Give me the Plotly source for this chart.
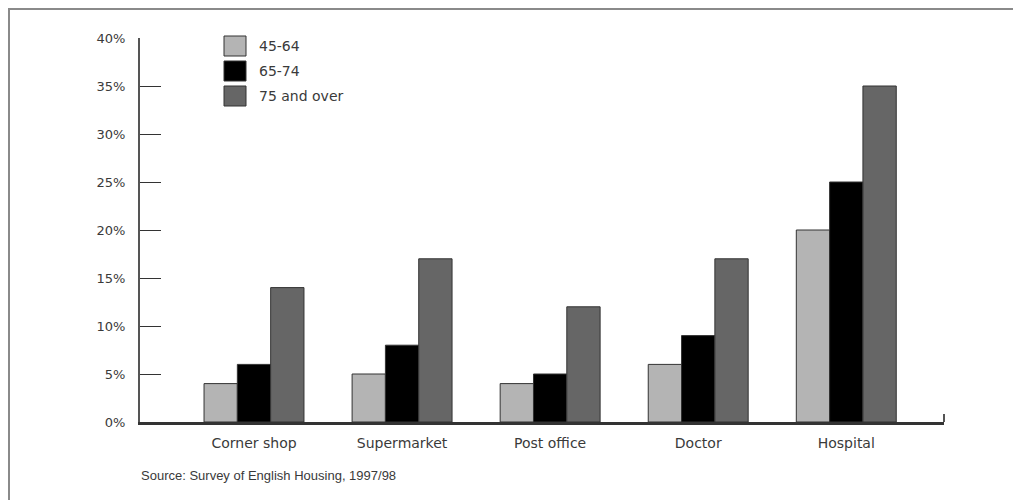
import plotly.graph_objects as go

categories = ["Corner shop", "Supermarket", "Post office", "Doctor", "Hospital"]
series_names = ["45-64", "65-74", "75 and over"]
vals_45_64 = [4, 5, 4, 6, 20]
vals_65_74 = [6, 8, 5, 9, 25]
vals_75_over = [14, 17, 12, 17, 35]
y_ticks = [0, 5, 10, 15, 20, 25, 30, 35, 40]
y_tick_labels = ["0%", "5%", "10%", "15%", "20%", "25%", "30%", "35%", "40%"]
source_text = "Source: Survey of English Housing, 1997/98"

colors = ["#b4b4b4", "#000000", "#666666"]
series_vals = [vals_45_64, vals_65_74, vals_75_over]

W, H = 1021, 500
OFF = 8  # page body margin
# plot area in page pixel coordinates (as seen in the reference)
L, R, T, B = 140 - OFF, 944 - OFF, 38 - OFF, 422 - OFF


def px(fx):
    return (fx - OFF - L) / (R - L)


def py(fy):
    return (B - (fy - OFF)) / (B - T)


fig = go.Figure()
for name, vals, c in zip(series_names, series_vals, colors):
    fig.add_trace(go.Bar(
        x=list(range(len(categories))), y=vals, name=name,
        marker=dict(color=c, line=dict(color="#333333", width=1)),
        showlegend=False,
    ))

txt = "#3a3a3a"
fam = "DejaVu Sans, Liberation Sans, sans-serif"
fig.update_layout(
    width=W, height=H,
    margin=dict(l=L, r=W - R, t=T, b=H - B, pad=0),
    paper_bgcolor="white", plot_bgcolor="white",
    barmode="group", bargap=0.325, bargroupgap=0,
    font=dict(family=fam, size=13, color=txt),
    xaxis=dict(
        range=[-0.77, 4.66], tickmode="array",
        tickvals=list(range(len(categories))), ticktext=categories,
        tickfont=dict(size=14, color=txt),
        showgrid=False, zeroline=False, showline=True, linecolor="#333333", linewidth=3,
        ticks="", ticklabelstandoff=6,
    ),
    yaxis=dict(
        range=[0, 40], tickmode="array", tickvals=y_ticks, ticktext=y_tick_labels,
        tickfont=dict(size=13, color=txt),
        showgrid=False, zeroline=False, showline=True, linecolor="#555555", linewidth=2,
        ticks="inside", ticklen=21, tickcolor="#333333", tickwidth=1,
        ticklabelstandoff=10,
    ),
)

# custom legend (large swatches)
leg_cy = [46, 71, 96]
for name, c, cy in zip(series_names, colors, leg_cy):
    fig.add_shape(type="rect", xref="paper", yref="paper",
                  x0=px(224), x1=px(246), y0=py(cy + 10), y1=py(cy - 10),
                  fillcolor=c, line=dict(color="#333333", width=1))
    fig.add_annotation(text=name, xref="paper", yref="paper",
                       x=px(257), y=py(cy), xanchor="left", yanchor="middle",
                       showarrow=False, font=dict(size=14, color=txt))

# small end tick at right of x-axis
fig.add_shape(type="line", xref="paper", yref="paper", x0=1, x1=1,
              y0=0, y1=8 / (B - T), line=dict(color="#555555", width=2))
# outer frame (top and left edges)
fig.add_shape(type="line", xref="paper", yref="paper",
              x0=px(0), x1=px(W + OFF), y0=py(9), y1=py(9),
              line=dict(color="#8a8a8a", width=2))
fig.add_shape(type="line", xref="paper", yref="paper",
              x0=px(9), x1=px(9), y0=py(8), y1=py(H + OFF),
              line=dict(color="#8a8a8a", width=2))

fig.add_annotation(text=source_text, xref="paper", yref="paper",
                   x=px(139), y=py(475), xanchor="left", yanchor="middle",
                   showarrow=False,
                   font=dict(family="Liberation Sans, Arial, sans-serif", size=13, color=txt))

fig.write_html("out.html")
